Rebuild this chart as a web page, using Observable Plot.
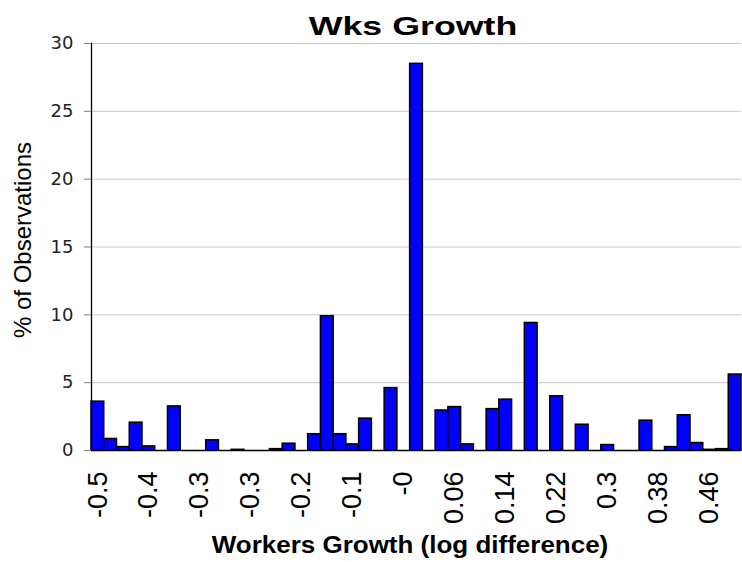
<!DOCTYPE html>
<html>
<head>
<meta charset="utf-8">
<script src="https://cdn.jsdelivr.net/npm/d3@7"></script>
<script src="https://cdn.jsdelivr.net/npm/@observablehq/plot@0.6"></script>
<style>
  html, body { margin: 0; padding: 0; background: #ffffff; }
  #chart svg { display: block; }
</style>
</head>
<body>
<div id="chart"></div>
<script>
// Bin categories (log difference, lower edges)
const bins = [
  "-0.50","-0.48","-0.46","-0.44","-0.42","-0.40","-0.38","-0.36","-0.34","-0.32",
  "-0.30","-0.28","-0.26","-0.24","-0.22","-0.20","-0.18","-0.16","-0.14","-0.12",
  "-0.10","-0.08","-0.06","-0.04","-0.02","0.00","0.02","0.04","0.06","0.08",
  "0.10","0.12","0.14","0.16","0.18","0.20","0.22","0.24","0.26","0.28",
  "0.30","0.32","0.34","0.36","0.38","0.40","0.42","0.44","0.46","0.48","0.50"
];
// % of observations per bin
const pct = [
  3.6, 0.85, 0.25, 2.05, 0.3, 0, 3.25, 0, 0, 0.75,
  0, 0.05, 0, 0, 0.1, 0.5, 0, 1.2, 9.9, 1.2,
  0.45, 2.35, 0, 4.6, 0, 28.5, 0, 2.95, 3.2, 0.45,
  0, 3.05, 3.75, 0, 9.4, 0, 4.0, 0, 1.9, 0,
  0.4, 0, 0, 2.2, 0, 0.25, 2.6, 0.55, 0.05, 0.1, 5.6
];
// Labelled bins and their tick labels
const tickBins = ["-0.50","-0.42","-0.34","-0.26","-0.18","-0.10","-0.02","0.06","0.14","0.22","0.30","0.38","0.46"];
const tickLabels = ["-0.5","-0.4","-0.3","-0.3","-0.2","-0.1","-0","0.06","0.14","0.22","0.3","0.38","0.46"];
const yTicks = [0, 5, 10, 15, 20, 25, 30];

const titleText = "Wks Growth";
const xTitle = "Workers Growth (log difference)";
const yTitle = "% of Observations";

const data = bins.map((b, i) => ({bin: b, pct: pct[i]}));
const labelOf = new Map(tickBins.map((b, i) => [b, tickLabels[i]]));

const chart = Plot.plot({
  width: 742,
  height: 562,
  marginTop: 43,
  marginBottom: 112,
  marginLeft: 91,
  marginRight: 1,
  style: {fontFamily: "'Liberation Sans', Arial, sans-serif", background: "#ffffff", color: "#000"},
  x: {type: "band", domain: bins, padding: 0, axis: null},
  y: {domain: [0, 30], axis: null},
  marks: [
    Plot.gridY(yTicks, {stroke: "#c8c8c8", strokeOpacity: 1, strokeWidth: 1}),
    Plot.barY(data, {x: "bin", y: "pct", fill: "#0000ff", stroke: "#000000", strokeWidth: 1.5}),
    Plot.ruleY([0], {stroke: "#000000", strokeWidth: 1.3}),
    Plot.frame({anchor: "left", stroke: "#000000", strokeWidth: 1.3}),
    Plot.axisY(yTicks, {anchor: "left", label: null, tickSize: 7, tickPadding: 11, fontSize: 18, fontFamily: "'DejaVu Sans', Verdana, sans-serif", stroke: "#808080", color: "#222"}),
    Plot.axisX(tickBins, {anchor: "bottom", label: null, tickSize: 0, tickPadding: 21, tickRotate: -90, fontSize: 27, tickFormat: d => labelOf.get(d)}),
    Plot.text([titleText], {frameAnchor: "top", dy: -9, dx: -3.5, lineAnchor: "bottom", fontSize: 26.5, fontWeight: "bold", fill: "#000"}),
    Plot.text([xTitle], {frameAnchor: "bottom", dy: 102, dx: -6.5, lineAnchor: "bottom", fontSize: 23, fontWeight: "bold", fill: "#000"}),
    Plot.text([yTitle], {frameAnchor: "left", dx: -68, dy: -7, rotate: -90, textAnchor: "middle", lineAnchor: "middle", fontSize: 24, fill: "#000"})
  ]
});

// Widen the titles' glyphs horizontally, as in the reference's wide lettering
d3.select(chart).selectAll("text").each(function () {
  const t = this.textContent;
  let sx = null;
  if (t === titleText) sx = 1.35;
  if (t === xTitle) sx = 1.13;
  if (sx) {
    const tr = this.getAttribute("transform") || "";
    this.setAttribute("transform", tr + ` scale(${sx},1)`);
  }
});

document.getElementById("chart").appendChild(chart);
</script>
</body>
</html>
